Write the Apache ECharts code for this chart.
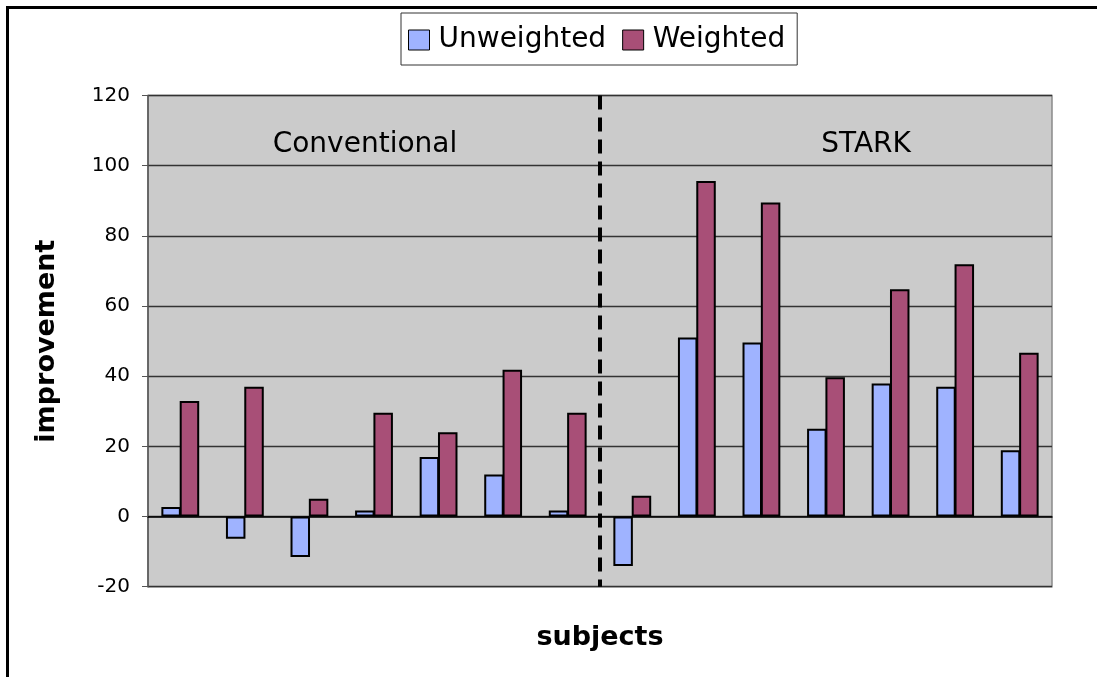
<!DOCTYPE html>
<html>
<head>
<meta charset="utf-8">
<script src="https://cdn.jsdelivr.net/npm/echarts@6/dist/echarts.min.js"></script>
<style>
html,body{margin:0;padding:0;background:#fff;}
#c{width:1097px;height:677px;}
</style>
</head>
<body>
<div id="c"></div>
<script>
// ---- data ----
var categories = ['1','2','3','4','5','6','7','8','9','10','11','12','13','14'];
var unweighted = [2.7, -6.3, -11.5, 1.7, 17, 12, 1.7, -14.1, 51, 49.6, 25, 37.9, 37, 18.9];
var weighted   = [32.9, 37, 5.1, 29.6, 24, 41.8, 29.6, 5.9, 95.6, 89.5, 39.7, 64.8, 71.9, 46.7];
var seriesNames = ['Unweighted', 'Weighted'];
var yTicks = {min: -20, max: 120, interval: 20};
var groupLabels = ['Conventional', 'STARK'];
var groupLabelPos = [[3.36, 106], [11.12, 106]];   // [category position, value]
var dividerAt = 7;   // boundary between the two groups (in category units)

var font = 'DejaVu Sans';
var chart = echarts.init(document.getElementById('c'), null, {renderer: 'canvas'});

var option = {
  backgroundColor: '#ffffff',
  animation: false,
  textStyle: {fontFamily: font},
  graphic: [{
    type: 'rect',
    shape: {x: 7.5, y: 7.5, width: 1200, height: 800},
    style: {fill: 'none', stroke: '#000', lineWidth: 3},
    silent: true, z: 100
  }],
  legend: {
    left: 401, top: 13,
    data: seriesNames,
    orient: 'horizontal',
    icon: 'rect',
    itemWidth: 21, itemHeight: 20, itemGap: 16,
    padding: [8, 12, 6, 7],
    borderColor: '#333', borderWidth: 1,
    backgroundColor: '#fff',
    itemStyle: {borderWidth: 1},
    textStyle: {fontFamily: font, fontSize: 28, color: '#000', lineHeight: 34, padding: [4, 0, 0, 4]}
  },
  grid: {
    left: 148, top: 95.5, right: 45, bottom: 90.3,
    show: true, backgroundColor: '#cbcbcb', borderColor: '#8a8a8a', borderWidth: 1.5
  },
  xAxis: [{
    type: 'category', data: categories,
    axisLine: {show: true, onZero: true, lineStyle: {color: '#000', width: 1.5}},
    axisTick: {show: false}, axisLabel: {show: false}, splitLine: {show: false}
  }, {
    type: 'value', min: 0, max: categories.length, position: 'bottom',
    axisLine: {show: false, onZero: false}, axisTick: {show: false}, axisLabel: {show: false}, splitLine: {show: false},
    name: 'subjects', nameLocation: 'middle', nameGap: 38,
    nameTextStyle: {fontFamily: font, fontSize: 27, fontWeight: 'bold', color: '#000'}
  }],
  yAxis: [{
    type: 'value', min: yTicks.min, max: yTicks.max, interval: yTicks.interval,
    axisLine: {show: true, lineStyle: {color: '#555', width: 1.5}},
    axisTick: {show: true, length: 6, lineStyle: {color: '#555'}},
    axisLabel: {fontFamily: font, fontSize: 20, color: '#000', margin: 18},
    splitLine: {show: true, lineStyle: {color: '#333', width: 1.4}},
    name: 'improvement', nameLocation: 'middle', nameRotate: 90, nameGap: 88,
    nameTextStyle: {fontFamily: font, fontSize: 27, fontWeight: 'bold', color: '#000'}
  }],
  series: [{
    name: seriesNames[0], type: 'bar', data: unweighted,
    barGap: '-6%', barWidth: 19.5,
    itemStyle: {color: '#9fb3ff', borderColor: '#000', borderWidth: 2}
  }, {
    name: seriesNames[1], type: 'bar', data: weighted,
    barGap: '-6%', barWidth: 19.5,
    itemStyle: {color: '#a84f77', borderColor: '#000', borderWidth: 2}
  }, {
    name: 'annot', type: 'line', xAxisIndex: 1, yAxisIndex: 0, data: [],
    silent: true, z: 5,
    markLine: {
      symbol: ['none', 'none'], silent: true, animation: false,
      label: {show: false},
      lineStyle: {color: '#000', width: 4, type: [14, 8]},
      data: [[{coord: [dividerAt, yTicks.max]}, {coord: [dividerAt, yTicks.min]}]]
    },
    markPoint: {
      symbol: 'rect', symbolSize: 1, silent: true,
      itemStyle: {color: 'rgba(0,0,0,0)'},
      label: {show: true, position: 'inside', fontFamily: font, fontSize: 28, color: '#000',
        formatter: function (p) { return p.name; }},
      data: groupLabels.map(function (t, i) { return {name: t, coord: groupLabelPos[i]}; })
    }
  }]
};
chart.setOption(option);
</script>
</body>
</html>
